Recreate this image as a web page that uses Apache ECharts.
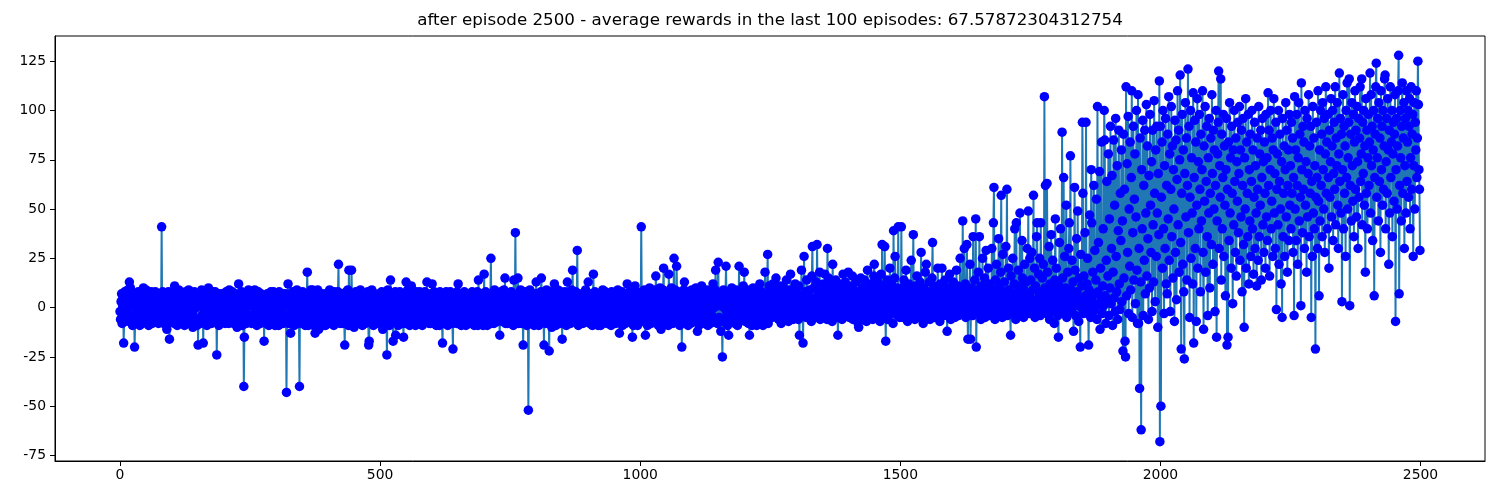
<!DOCTYPE html>
<html>
<head>
<meta charset="utf-8">
<script src="https://cdn.jsdelivr.net/npm/echarts@6/dist/echarts.min.js"></script>
<style>
html,body{margin:0;padding:0;background:#fff;}
#chart{width:1500px;height:500px;}
</style>
</head>
<body>
<div id="chart"></div>
<script>
const titleText = "after episode 2500 - average rewards in the last 100 episodes: 67.57872304312754";
const xTicks = [0, 500, 1000, 1500, 2000, 2500];
const yTicks = [-75, -50, -25, 0, 25, 50, 75, 100, 125];

const rewards0 = [
-2,-6,3,7,-8,1,5,-18,-5,8,2,-7,6,-4,0,9,-3,7,13,-7,10,4,-6,2,-9,
3,-5,7,-20,-8,5,-1,-7,6,-3,8,-6,2,-9,5,0,-5,7,-8,6,10,-3,4,-7,1,
9,-6,3,7,-4,-9,1,6,-7,4,8,-2,-8,3,6,-5,0,-7,8,4,-6,2,-3,7,-8,
1,5,-7,6,-3,41,-5,8,3,-8,7,-6,0,5,-9,-11,6,-3,8,-5,-16,2,-7,5,-1,
6,-4,8,-2,-8,11,1,5,-6,7,-9,3,-5,9,0,-7,6,-2,4,-8,7,1,-6,3,-9,
4,8,-3,-7,6,0,-5,9,-8,2,6,-6,1,7,-3,-10,4,-5,8,2,-7,0,6,-9,5,
-19,3,-6,7,1,-8,4,9,-4,2,-18,6,-2,-7,8,0,5,-9,3,6,10,-4,1,-6,7,
2,-8,5,8,-3,6,-6,0,8,-4,3,-24,7,-2,5,-9,1,6,-5,7,-7,3,5,-6,0,
7,-3,-8,4,8,0,-6,2,6,-8,9,-4,1,5,-7,3,8,-2,-8,6,0,-5,7,-6,2,
-10,5,-3,12,1,-7,6,-4,3,8,-9,0,4,-40,-15,7,-2,6,-8,1,5,-6,9,2,-4
];
const rewards1 = [
6,-4,1,-8,7,2,-6,5,-3,9,-7,0,6,-9,3,-5,8,1,-6,4,-8,7,-2,3,-7,
1,6,-17,4,-3,6,-8,0,7,-5,3,-9,6,1,-6,8,-2,5,-7,2,8,-4,0,-9,6,
-2,7,-6,1,5,-9,8,2,-4,6,-7,0,7,-3,-8,4,1,-6,7,2,-43,-4,6,12,-8,
1,5,-3,-13,7,-6,2,8,-5,0,-9,6,-2,4,-7,9,0,-4,3,-8,-40,6,-2,7,-6,
1,8,-8,4,-3,6,-9,2,0,7,18,-5,-9,6,3,-6,0,9,-7,4,9,-2,-9,5,1,
-13,4,-6,8,0,9,-4,-11,2,7,-8,0,6,-3,7,-6,3,-9,5,1,-9,7,-4,2,-7,
6,0,-5,9,-8,3,-2,7,-6,1,5,-9,8,-3,2,-7,6,0,-5,8,22,-6,3,-8,4,
0,7,-4,-8,6,2,-7,-19,4,0,8,-6,-2,9,-9,19,4,-5,1,-9,19,6,-7,3,0,
-10,5,-6,8,1,-3,7,-8,2,6,-5,0,9,-7,4,-2,-9,6,1,-6,7,2,-8,5,0,
-4,8,-2,-19,-17,6,0,-7,4,9,-6,2,-9,0,7,5,-4,6,-3,-8,4,1,-7,7,2
];
const rewards2 = [
4,-6,1,8,-3,-11,6,-5,2,7,-8,0,5,-24,-6,9,3,-2,-9,6,14,0,-7,4,-3,
-17,6,1,-5,8,-14,3,-6,7,0,-9,5,-2,8,-7,2,6,-4,0,-8,-15,7,-3,4,-8,
13,1,-6,9,2,-4,7,-9,0,6,11,-3,-8,4,1,7,-6,3,-9,8,-4,0,6,-2,-7,
4,8,-6,1,7,-3,-9,2,6,-5,0,8,-7,4,-2,13,1,-6,7,-8,3,5,-8,0,6,
12,-4,3,-7,8,0,-3,6,-9,4,1,-6,7,2,-9,8,-5,0,6,-8,-18,4,-2,7,1,
-6,3,8,-4,0,-9,6,-2,5,-7,8,1,-5,3,-8,-21,7,-3,1,6,-6,4,-8,8,0,
12,-5,3,-7,6,0,-9,4,7,-2,-6,1,8,-4,2,-9,6,0,-7,4,7,-3,-8,3,1,
6,-4,8,-7,1,3,-9,7,-2,5,-6,0,8,-9,14,2,-5,6,1,-8,7,-3,4,-9,0,
17,-6,3,8,-4,0,-9,6,2,-7,5,-2,7,25,-8,0,6,-5,3,-8,9,1,-6,4,-3,
7,-7,0,5,-6,-14,3,8,-2,1,-7,6,-4,9,0,15,-8,3,-2,6,-8,4,1,-6,7
];
const rewards3 = [
4,-6,8,0,-3,7,-9,14,2,-4,38,1,-7,6,-2,15,-8,4,0,-6,9,2,-8,5,-3,
-19,6,0,-7,8,-4,3,-9,1,7,-52,-6,4,9,-2,0,-8,6,2,-5,7,-9,1,4,-6,
13,-2,7,-5,0,-9,6,2,-7,8,15,1,-6,4,-3,-19,7,0,-8,5,9,-4,3,-7,0,
-22,6,-3,8,1,-10,4,-6,2,7,12,-4,0,-9,6,2,-7,9,0,-5,4,-8,8,-3,1,
-16,6,2,-7,0,8,-5,4,-9,3,13,0,-6,7,-2,5,-8,1,9,-4,19,2,-7,6,0,
-3,8,-6,4,29,0,-9,3,7,-5,1,-8,6,-2,4,-8,0,7,-6,2,9,-4,1,-7,6,
13,-2,5,-8,0,7,-6,2,-9,4,17,1,-5,8,-7,3,6,-3,0,-9,7,4,-6,1,-9,
6,2,-5,9,0,-7,4,-3,8,-6,1,-8,6,2,-8,7,-2,0,5,-9,8,-4,3,-6,0,
7,-4,2,-8,6,0,-3,9,-7,4,-13,1,6,-5,3,8,-9,0,4,-6,7,-2,-8,3,1,
12,-6,4,0,-7,8,-3,6,-5,1,-15,7,-9,2,5,11,-6,0,8,-3,-9,4,-7,6,0
];
const rewards4 = [
6,-4,41,1,8,-7,3,-2,9,-6,-14,4,0,7,-9,2,6,-4,10,0,8,-8,4,-3,7,
1,-6,9,3,-7,16,5,-3,8,0,-9,6,-4,10,2,-11,7,0,-6,9,20,-2,4,-8,1,
8,-5,6,0,-9,17,3,7,-2,-6,10,1,5,-8,6,25,-3,9,0,-7,21,4,-5,8,1,
6,-9,3,7,-2,-20,5,0,-6,9,13,-4,2,8,-7,0,6,-9,4,2,-3,7,-8,1,9,
-4,6,0,-7,8,3,-2,10,-6,4,-12,1,7,-9,2,6,-4,0,11,-7,5,8,-2,0,-8,
6,2,-6,9,0,-9,4,-3,7,1,-8,6,8,-4,3,12,-7,0,5,9,19,-6,2,-8,6,
23,1,-5,7,2,-12,6,-7,-25,4,9,0,-6,3,8,21,-2,5,-9,0,-14,7,2,-4,6,
1,10,-6,4,-3,7,0,-8,6,9,-5,2,-9,4,0,21,-7,6,3,-2,8,-6,1,11,-4,
18,3,-7,6,0,-5,9,2,-8,4,-14,1,7,-3,6,-9,4,10,0,-6,8,2,-5,7,-9,
1,6,-3,9,-7,12,4,0,-6,8,2,-9,7,4,-2,18,1,-5,6,3,27,-8,7,11,1
];
const rewards5 = [
4,-2,8,0,-5,12,3,-1,6,-3,1,15,-4,2,9,0,-6,5,-2,11,3,-8,1,7,0,
-3,10,2,-5,6,0,14,-2,4,1,-7,9,3,-1,17,0,-4,5,2,-6,8,1,-2,12,0,
5,-3,7,2,-6,11,-14,1,4,0,19,-2,6,-18,3,26,-1,8,0,-5,14,2,-3,6,1,
-4,9,0,3,-7,16,31,2,-2,10,0,-5,5,13,-1,32,4,-3,7,0,18,-6,2,9,1,
-2,6,12,0,-4,17,3,-1,8,-6,30,2,15,-3,5,0,11,-2,4,-7,22,1,9,-3,6,
0,14,-5,3,8,-14,2,-2,12,5,-1,9,0,-6,4,17,1,-3,7,13,0,-4,10,2,-2,
18,3,-5,7,0,11,-2,4,16,-6,1,9,-1,5,0,13,-3,6,2,-8,-10,8,1,-4,15,
3,-2,10,0,6,-5,14,2,-1,8,-7,4,19,0,-3,7,1,12,-4,5,0,9,-6,3,16,
22,-1,6,2,-5,10,0,13,-3,4,8,-7,1,17,-2,32,5,0,11,-4,31,3,-17,7,0,
14,-6,2,9,-1,20,4,-3,12,0,6,-8,39,1,15,26,-2,7,3,10,-4,41,0,8,-5
];
const rewards6 = [
6,-3,41,2,10,-5,0,14,3,-2,8,19,-1,5,-7,1,12,4,-4,0,9,24,2,-3,7,
37,0,5,-6,11,2,-2,16,4,-1,9,0,-5,13,3,28,-3,6,1,-8,10,2,-2,18,0,
22,5,-4,8,1,-1,13,-6,3,0,7,15,33,-2,4,11,-5,0,9,2,-3,6,20,1,-1,
4,-7,12,0,3,20,-2,8,5,-4,1,14,0,-3,6,-12,2,10,-1,4,17,0,-6,3,9,
1,-2,13,5,0,-5,8,2,19,-1,4,11,-4,0,7,25,3,-2,9,1,44,-3,6,30,0,
12,-5,4,32,1,-16,8,-2,3,22,-16,0,10,5,-4,36,2,-1,14,6,45,-20,3,9,0,
18,-3,36,4,1,-6,11,2,25,-2,7,0,15,-5,3,29,1,8,-1,20,4,-4,12,0,6,
3,30,-2,9,43,61,5,-6,14,1,22,-3,7,0,35,11,-1,4,18,57,2,-5,27,0,8,
13,-2,6,31,4,60,-4,1,20,9,-1,3,-14,16,0,7,25,-3,5,12,40,2,-6,43,1,
8,-4,19,3,11,48,0,6,-2,34,15,1,-5,9,22,4,-1,13,2,30,0,49,7,-3,25
];
const rewards7 = [
5,14,-3,28,2,9,57,0,20,-5,11,3,36,43,1,-2,17,6,25,-4,43,8,0,15,3,
22,-1,107,10,62,4,-3,63,18,0,7,31,-6,12,2,37,-2,9,24,1,5,-8,14,45,3,
20,0,8,-4,-15,11,33,2,40,-1,6,89,15,-3,66,4,26,0,10,52,-5,7,18,1,30,
43,-2,77,9,3,24,0,13,-12,6,61,19,-4,2,35,8,49,1,-7,15,4,-20,27,0,11,
94,58,-3,16,2,38,6,94,-1,12,25,4,-19,9,47,1,-5,70,43,3,18,-2,62,7,29,
0,14,55,-6,102,8,33,2,69,-11,20,5,84,-3,11,40,1,100,85,6,-8,24,64,3,16,
78,-4,45,10,92,2,30,67,-9,18,85,5,52,-2,96,26,8,72,-6,39,90,12,-1,58,34,
80,3,44,-22,88,15,60,-17,-25,112,6,73,28,97,-3,50,21,84,9,66,110,-5,38,92,14,
55,78,2,46,100,19,-8,108,-8,30,-41,86,13,-62,70,40,95,-4,62,24,90,7,48,103,16,
82,35,-6,67,10,98,52,28,74,-2,90,42,13,105,58,3,80,26,92,48,-10,68,37,115,-68
];
const rewards8 = [
92,-50,56,84,20,100,40,-3,72,30,96,12,62,7,88,45,107,24,78,-2,60,102,36,82,15,
70,50,-7,95,28,85,4,65,110,42,90,18,75,118,33,-21,58,98,22,80,8,-26,68,104,46,
86,14,62,121,38,92,-5,56,100,25,76,48,12,109,-18,66,95,30,84,-7,52,106,20,74,40,
98,60,8,88,44,70,110,28,-11,82,54,102,18,64,92,36,-4,76,48,96,10,58,86,32,108,
68,22,90,50,80,-2,62,100,-15,44,78,94,120,30,72,56,116,14,88,40,66,98,26,82,52,
6,70,96,-19,60,-15,84,34,104,48,76,20,92,58,2,80,42,100,64,28,86,16,74,54,94,
38,68,102,24,80,46,90,8,62,96,32,-10,76,50,106,20,84,58,36,98,12,70,44,88,26,
64,100,40,80,17,56,94,30,72,48,11,86,60,24,102,36,78,52,90,14,66,96,42,74,28,
84,58,20,98,46,76,34,109,62,90,16,70,100,40,54,86,26,80,106,48,68,30,94,-1,60,
78,42,100,22,64,88,50,12,74,-5,96,36,58,82,26,70,104,46,90,18,62,80,34,98,52
];
const rewards9 = [
72,40,94,58,86,28,66,-4,107,50,80,34,98,62,22,76,104,44,88,56,1,114,70,38,92,
60,84,30,100,52,74,18,96,46,68,108,36,82,58,92,-5,64,26,102,48,86,40,72,-21,56,
94,66,30,110,54,6,80,44,100,62,88,36,104,70,50,96,28,78,112,58,84,40,98,66,20,
90,56,74,106,46,82,100,34,68,94,60,112,42,86,72,104,52,30,78,119,64,96,48,88,3,
70,108,40,92,58,82,26,100,66,114,50,76,94,116,1,62,88,44,104,72,54,98,36,84,110,
60,90,46,102,74,30,96,56,86,112,64,78,116,42,94,68,100,52,82,18,106,58,90,40,76,
98,62,84,119,48,108,72,92,34,80,100,6,66,88,112,124,56,76,96,44,104,64,86,28,110,
70,92,52,100,60,82,116,118,40,74,96,58,106,80,22,90,48,112,66,84,100,36,78,94,54,
88,108,-7,70,96,50,82,110,128,7,62,100,76,44,92,114,58,86,104,30,72,96,48,110,64,
84,100,56,92,106,40,76,112,60,88,98,26,72,104,50,94,80,110,66,86,125,103,70,60,29
];

const rewards = [].concat(rewards0, rewards1, rewards2, rewards3, rewards4,
                          rewards5, rewards6, rewards7, rewards8, rewards9);
const seriesData = rewards.map((v, i) => [i, v]);

const FONT = "'DejaVu Sans', sans-serif";
const chart = echarts.init(document.getElementById('chart'), null, {renderer: 'canvas'});
chart.setOption({
  animation: false,
  backgroundColor: '#ffffff',
  graphic: [{
    type: 'text', x: 770, y: 21, z: 100,
    style: {text: titleText, fill: '#000', fontSize: 16.7, fontFamily: FONT,
            textAlign: 'center', textVerticalAlign: 'middle'}
  }],
  grid: {left: 55, right: 15, top: 36, bottom: 39, show: true,
         borderColor: '#000', borderWidth: 1, backgroundColor: 'transparent'},
  xAxis: {
    type: 'value', min: -125, max: 2624,
    axisLine: {show: true, onZero: false, lineStyle: {color: '#000', width: 1}},
    axisTick: {show: true, length: 5, lineStyle: {color: '#000', width: 1}, customValues: xTicks},
    axisLabel: {color: '#000', fontSize: 13.9, fontFamily: FONT, margin: 7, customValues: xTicks,
                formatter: v => String(v)},
    splitLine: {show: false}
  },
  yAxis: {
    type: 'value', min: -77.8, max: 137.8,
    axisLine: {show: true, onZero: false, lineStyle: {color: '#000', width: 1}},
    axisTick: {show: true, length: 5, lineStyle: {color: '#000', width: 1}, customValues: yTicks},
    axisLabel: {color: '#000', fontSize: 13.9, fontFamily: FONT, margin: 9, customValues: yTicks,
                formatter: v => String(v)},
    splitLine: {show: false}
  },
  series: [{
    type: 'line',
    data: seriesData,
    symbol: 'circle',
    symbolSize: 9.5,
    showSymbol: true,
    showAllSymbol: true,
    sampling: null,
    itemStyle: {color: '#0000ff', borderWidth: 0},
    lineStyle: {color: '#1f77b4', width: 2},
    emphasis: {disabled: true},
    silent: true
  }]
});
</script>
</body>
</html>
